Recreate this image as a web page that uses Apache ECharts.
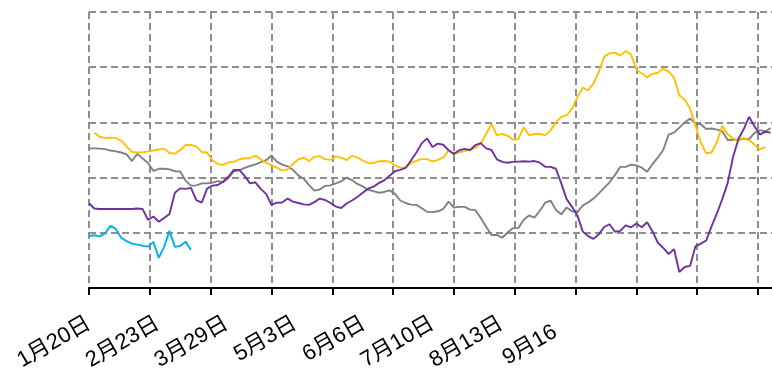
<!DOCTYPE html>
<html>
<head>
<meta charset="utf-8">
<script src="https://cdn.jsdelivr.net/npm/echarts@6/dist/echarts.min.js"></script>
<style>
  html, body { margin: 0; padding: 0; background: #ffffff; }
  #chart { width: 772px; height: 369px; }
</style>
</head>
<body>
<div id="chart"></div>
<script>
// Date labels shown under the axis
const dateLabels = ['1月20日', '2月23日', '3月29日', '5月3日', '6月6日', '7月10日', '8月13日', '9月16'];

// Grid spacing (days) and sampling step (days) of the series below
const tickDays = 34;
const sampleStep = 3;

// Series values, one sample every `sampleStep` days starting on 1月20日
const yellowValues = [
  null, 56.2, 54.8, 54.3, 54.5, 54.3, 53.4, 51.3, 49.3, 49.1,
  49.2, 49.5, 49.8, 50.2, 50.5, 48.9, 48.7, 50.0, 51.8, 51.8,
  51.3, 49.3, 49.1, 46.2, 44.9, 44.6, 45.5, 45.7, 46.6, 47.0,
  47.0, 48.0, 46.6, 45.4, 44.4, 43.6, 42.5, 43.0, 44.9, 46.6,
  47.2, 46.0, 47.5, 47.8, 46.7, 46.4, 47.7, 47.2, 46.3, 47.9,
  47.3, 46.2, 45.3, 45.2, 45.9, 46.0, 45.8, 44.4, 43.6, 43.6,
  45.3, 46.1, 46.7, 46.7, 45.9, 46.4, 47.2, 49.9, 48.5, 49.2,
  49.6, 50.2, 50.8, 52.4, 55.9, 59.4, 55.4, 55.8, 55.2, 53.7,
  53.9, 58.3, 55.3, 55.8, 55.8, 55.4, 57.1, 60.0, 62.0, 62.6,
  65.0, 69.2, 72.6, 71.6, 74.1, 78.3, 83.8, 85.1, 85.3, 84.2,
  85.9, 84.6, 79.1, 77.8, 76.3, 77.6, 78.0, 79.5, 78.4, 76.2,
  69.8, 68.2, 65.0, 58.9, 52.7, 48.8, 49.1, 52.9, 58.8, 55.7,
  54.2, 53.3, 54.3, 53.5, 52.0, 50.2, 51.1
];

const grayValues = [
  50.6, 50.6, 50.5, 50.3, 49.8, 49.5, 49.1, 48.4, 46.0, 48.6,
  46.9, 45.3, 42.4, 43.2, 43.2, 43.0, 42.3, 42.2, 38.9, 37.1,
  37.2, 37.9, 37.9, 38.2, 38.7, 38.4, 39.9, 42.3, 42.6, 43.5,
  44.2, 44.8, 45.5, 46.3, 48.0, 45.8, 44.7, 44.1, 42.8, 40.8,
  39.6, 37.3, 35.3, 35.7, 37.0, 37.2, 37.9, 38.6, 40.0, 39.1,
  37.7, 36.8, 35.6, 35.1, 34.5, 34.8, 35.4, 34.1, 31.7, 30.8,
  30.2, 30.1, 28.9, 27.6, 27.5, 27.8, 28.6, 31.3, 29.1, 29.4,
  29.4, 28.4, 28.2, 25.4, 22.2, 19.2, 19.2, 18.2, 20.1, 21.7,
  21.7, 24.7, 26.3, 25.5, 28.0, 30.9, 31.7, 28.3, 26.7, 29.2,
  27.8, 27.4, 29.9, 31.0, 32.4, 34.3, 36.3, 38.3, 40.9, 43.9,
  43.9, 44.7, 44.4, 43.6, 42.1, 44.9, 47.3, 50.0, 55.6, 56.3,
  58.1, 60.0, 61.4, 59.6, 59.3, 57.6, 57.8, 57.4, 56.8, 53.6,
  53.7, 53.8, 54.1, 53.9, 56.2, 57.2, 56.7, 58.0
];

const purpleValues = [
  30.7, 28.8, 28.6, 28.6, 28.6, 28.6, 28.6, 28.6, 28.6, 28.8,
  28.6, 24.7, 25.9, 24.0, 25.4, 26.8, 34.5, 36.1, 35.9, 36.3,
  31.8, 30.9, 36.0, 37.1, 37.3, 38.5, 40.4, 42.8, 42.8, 40.6,
  37.9, 38.3, 35.9, 34.1, 30.1, 30.9, 31.0, 32.4, 31.3, 30.8,
  30.3, 30.1, 31.1, 32.4, 31.9, 30.8, 29.5, 29.0, 30.6, 31.7,
  33.0, 34.5, 36.0, 36.7, 38.0, 39.0, 40.7, 42.3, 42.8, 43.5,
  46.2, 49.1, 52.4, 54.2, 51.1, 52.3, 51.9, 49.9, 48.6, 49.9,
  50.4, 49.9, 51.8, 52.5, 50.6, 50.0, 46.6, 45.7, 45.4, 45.7,
  45.8, 45.9, 45.8, 46.0, 45.4, 43.9, 43.9, 43.2, 37.9, 32.2,
  29.4, 26.3, 20.5, 18.8, 17.8, 19.5, 22.1, 23.1, 20.4, 20.7,
  22.7, 22.0, 23.4, 22.0, 23.8, 20.5, 16.4, 14.5, 12.3, 14.1,
  5.8, 7.6, 8.0, 15.1, 16.1, 17.2, 22.3, 27.0, 32.2, 38.0,
  47.4, 54.0, 57.6, 62.0, 58.6, 55.6, 56.6, 56.3
];

const cyanValues = [
  18.8, 19.1, 18.7, 19.8, 22.5, 21.4, 18.2, 17.0, 16.1, 15.7,
  15.3, 15.0, 16.7, 10.9, 14.9, 20.7, 14.9, 15.2, 16.8, 13.8
];

// Day offset of each sample
const sampleDays = purpleValues.map((_, i) => i * sampleStep);

function toPoints(values) {
  return values.map((v, i) => [sampleDays[i], v]);
}

const gridLineStyle = { color: '#8e8e8e', width: 2, type: [7, 4] };
const labelFont = "'Liberation Sans', 'Noto Sans CJK JP', sans-serif";

function lineSeries(name, values, color) {
  return {
    name: name,
    type: 'line',
    xAxisIndex: 0,
    yAxisIndex: 0,
    data: toPoints(values),
    symbol: 'none',
    smooth: false,
    connectNulls: false,
    lineStyle: { color: color, width: 1.9 },
    itemStyle: { color: color },
    emphasis: { disabled: true }
  };
}

const chart = echarts.init(document.getElementById('chart'), null, { renderer: 'canvas' });

chart.setOption({
  animation: false,
  backgroundColor: '#ffffff',
  grid: [
    { left: 89, top: 12, width: 695, bottom: 81, outerBoundsMode: 'none', containLabel: false },
    { left: 89, top: 12, width: 481, bottom: 81, outerBoundsMode: 'none', containLabel: false }
  ],
  xAxis: [
    {
      type: 'value',
      gridIndex: 0,
      min: 0,
      max: 388.5,
      interval: tickDays,
      axisLine: { show: true, onZero: false, lineStyle: { color: '#000000', width: 2 } },
      axisTick: { show: true, inside: false, length: 7, lineStyle: { color: '#000000', width: 2 } },
      axisLabel: { show: false },
      splitLine: { show: true, lineStyle: gridLineStyle }
    },
    {
      type: 'category',
      gridIndex: 1,
      boundaryGap: false,
      data: dateLabels.map((label, i) =>
        i === dateLabels.length - 1
          ? { value: label, textStyle: { padding: [0, 17, 0, 0] } }
          : label
      ),
      axisLine: { show: false },
      axisTick: { show: false },
      splitLine: { show: false },
      axisLabel: {
        interval: 0,
        rotate: 30,
        margin: 34,
        fontSize: 22,
        color: '#000000',
        fontFamily: labelFont,
        hideOverlap: false
      }
    }
  ],
  yAxis: [
    {
      type: 'value',
      gridIndex: 0,
      min: 0,
      max: 100,
      interval: 20,
      axisLine: { show: false },
      axisTick: { show: false },
      axisLabel: { show: false },
      splitLine: { show: true, lineStyle: gridLineStyle }
    },
    { type: 'value', gridIndex: 1, show: false }
  ],
  series: [
    lineSeries('gray', grayValues, '#808080'),
    lineSeries('yellow', yellowValues, '#FFC000'),
    lineSeries('purple', purpleValues, '#7030A0'),
    lineSeries('cyan', cyanValues, '#00B0F0')
  ]
});
</script>
</body>
</html>
